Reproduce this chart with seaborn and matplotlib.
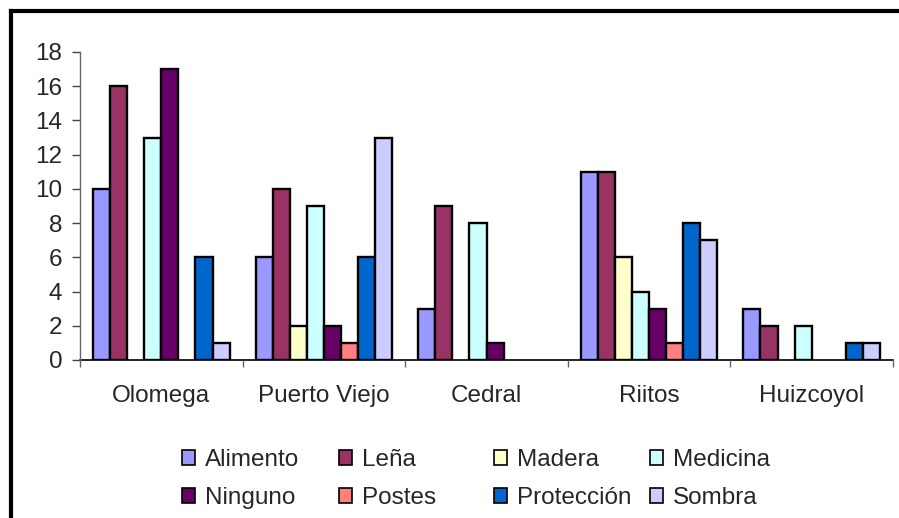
import matplotlib
matplotlib.use("Agg")
import matplotlib.pyplot as plt
from matplotlib.patches import Patch
from matplotlib.lines import Line2D
import numpy as np
import pandas as pd
import seaborn as sns

sites = ["Olomega", "Puerto Viejo", "Cedral", "Riitos", "Huizcoyol"]
uses = ["Alimento", "Leña", "Madera", "Medicina", "Ninguno", "Postes", "Protección", "Sombra"]

alimento = [10, 6, 3, 11, 3]
lena = [16, 10, 9, 11, 2]
madera = [0, 2, 0, 6, 0]
medicina = [13, 9, 8, 4, 2]
ninguno = [17, 2, 1, 3, 0]
postes = [0, 1, 0, 1, 0]
proteccion = [6, 6, 0, 8, 1]
sombra = [1, 13, 0, 7, 1]

colors = ["#9999FF", "#993366", "#FFFFCC", "#CCFFFF", "#660066", "#FF8080", "#0066CC", "#CCCCFF"]

series = [alimento, lena, madera, medicina, ninguno, postes, proteccion, sombra]
rows = []
for use, vals in zip(uses, series):
    for site, v in zip(sites, vals):
        rows.append({"Sitio": site, "Uso": use, "Valor": v})
df = pd.DataFrame(rows)

sns.set_style("white")
plt.rcParams["font.family"] = ["Liberation Sans", "DejaVu Sans"]
FS = 17.5

fig = plt.figure(figsize=(8.99, 5.18), dpi=100)
ax = fig.add_axes([80 / 899, 158 / 518, 813 / 899, 308 / 518])

sns.barplot(data=df, x="Sitio", y="Valor", hue="Uso", order=sites, hue_order=uses,
            palette=colors, width=0.84, edgecolor="black", linewidth=1.7,
            saturation=1, legend=False, ax=ax)

# empty categories leave no visible bar
for bar in ax.patches:
    if bar.get_height() == 0:
        bar.set_visible(False)

ax.set_xlim(-0.5, len(sites) - 0.5)
ax.set_ylim(0, 18)
ax.set_yticks(range(0, 19, 2))
ax.set_xlabel("")
ax.set_ylabel("")

for s in ["top", "right"]:
    ax.spines[s].set_visible(False)
ax.spines["left"].set_color("#666666")
ax.spines["left"].set_linewidth(1)
ax.spines["bottom"].set_color("black")
ax.spines["bottom"].set_linewidth(1.2)
ax.spines["bottom"].set_zorder(0.5)

ax.tick_params(axis="y", which="major", direction="out", length=5.8, width=1,
               color="#444444", labelsize=FS, pad=7, left=True)
ax.set_xticks(np.arange(-0.5, len(sites), 1.0), minor=True)
ax.tick_params(axis="x", which="minor", direction="out", length=5, width=1, color="#666666", bottom=True)
ax.tick_params(axis="x", which="major", length=0, labelsize=FS, pad=18)

# legend: four columns of two entries each
columns = [["Alimento", "Ninguno"], ["Leña", "Postes"], ["Madera", "Protección"], ["Medicina", "Sombra"]]
col_x = [182, 339, 494, 650]
for cx, col in zip(col_x, columns):
    handles = [Patch(facecolor=colors[uses.index(u)], edgecolor="black", linewidth=1.2) for u in col]
    fig.legend(handles, col, loc="upper left", bbox_to_anchor=(cx / 899, 1 - 449 / 518),
               frameon=False, fontsize=FS, handlelength=0.54, handleheight=0.54,
               handletextpad=0.4, labelspacing=0.66, borderpad=0, borderaxespad=0)

# outer chart frame
fig.add_artist(Line2D([11.3 / 899, 11.3 / 899], [0, 1 - 11.3 / 518], transform=fig.transFigure,
                      color="black", linewidth=3, solid_capstyle="projecting"))
fig.add_artist(Line2D([11.3 / 899, 1], [1 - 11.3 / 518, 1 - 11.3 / 518], transform=fig.transFigure,
                      color="black", linewidth=3, solid_capstyle="projecting"))

fig.savefig("out.png", dpi=100)
